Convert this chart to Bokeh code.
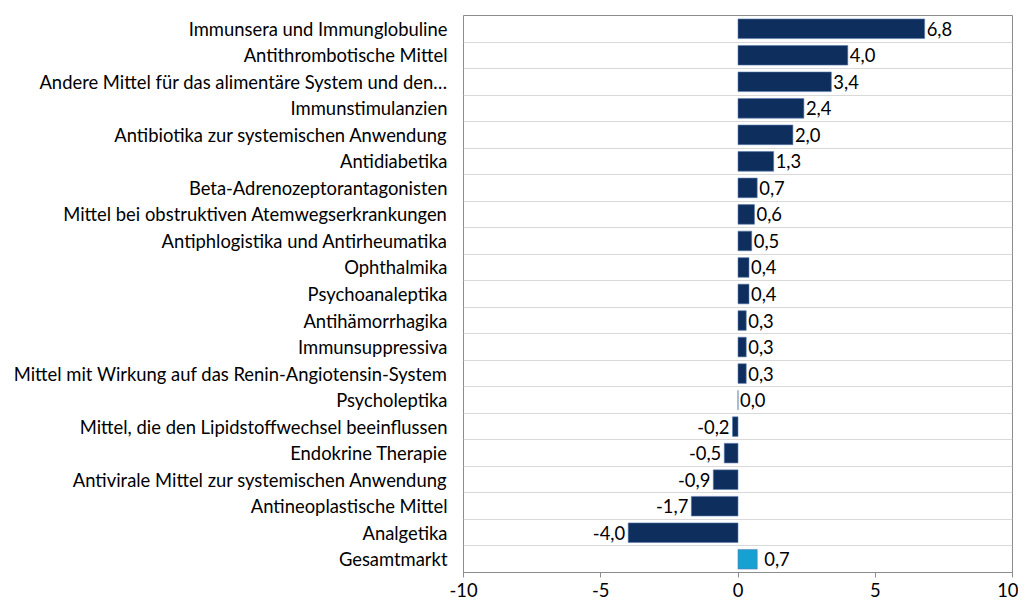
from bokeh.plotting import figure
from bokeh.models import Range1d, FixedTicker, Grid, ColumnDataSource
from bokeh.core.properties import value
from bokeh.embed import file_html
from bokeh.resources import INLINE

categories = [
    "Immunsera und Immunglobuline",
    "Antithrombotische Mittel",
    "Andere Mittel für das alimentäre System und den…",
    "Immunstimulanzien",
    "Antibiotika zur systemischen Anwendung",
    "Antidiabetika",
    "Beta-Adrenozeptorantagonisten",
    "Mittel bei obstruktiven Atemwegserkrankungen",
    "Antiphlogistika und Antirheumatika",
    "Ophthalmika",
    "Psychoanaleptika",
    "Antihämorrhagika",
    "Immunsuppressiva",
    "Mittel mit Wirkung auf das Renin-Angiotensin-System",
    "Psycholeptika",
    "Mittel, die den Lipidstoffwechsel beeinflussen",
    "Endokrine Therapie",
    "Antivirale Mittel zur systemischen Anwendung",
    "Antineoplastische Mittel",
    "Analgetika",
    "Gesamtmarkt",
]
values = [6.8, 4.0, 3.4, 2.4, 2.0, 1.3, 0.7, 0.6, 0.5, 0.4, 0.4, 0.3, 0.3, 0.3,
          0.0, -0.2, -0.5, -0.9, -1.7, -4.0, 0.7]
x_ticks = [-10, -5, 0, 5, 10]
x_tick_labels = ["-10", "-5", "0", "5", "10"]

FONT = "Lato"
FS = "18.4px"
DARK = "#0E2F5E"
LIGHT = "#15A2D2"

n = len(categories)
idx = list(range(n))
colors = [LIGHT if c == "Gesamtmarkt" else DARK for c in categories]
labels = [("%.1f" % v).replace(".", ",") for v in values]
aligns = ["right" if v < 0 else "left" for v in values]
offsets = [(-3 if v < 0 else (7 if c == "Gesamtmarkt" else 2)) for v, c in zip(values, categories)]

src = ColumnDataSource(dict(y=idx, v=values, color=colors, label=labels,
                            align=aligns, off=offsets))

p = figure(width=1018, height=599, output_backend="svg", toolbar_location=None,
           x_range=Range1d(-10, 10), y_range=Range1d(n - 0.5, -0.5))
p.min_border_left = 463
p.min_border_right = 6
p.min_border_top = 15
p.min_border_bottom = 10
p.outline_line_color = "#8c8c8c"
p.outline_line_width = 1
p.background_fill_color = "white"
p.border_fill_color = "white"

p.xgrid.visible = False
p.ygrid.visible = False
p.add_layout(Grid(dimension=1, ticker=FixedTicker(ticks=[i + 0.5 for i in range(n - 1)]),
                  grid_line_color="#d9d9d9", grid_line_width=1))

p.hbar(y="y", left=0, right="v", height=0.74, fill_color="color",
       line_color="#5b7db0", line_width=0.6, source=src)
p.text(x="v", y="y", text="label", text_align="align", x_offset="off",
       text_baseline="middle", text_font=value(FONT), text_font_size=FS,
       text_color="#000000", source=src)

xa = p.xaxis[0]
xa.ticker = FixedTicker(ticks=x_ticks)
xa.major_label_overrides = dict(zip(x_ticks, x_tick_labels))
xa.minor_tick_line_color = None
xa.major_tick_in = 0
xa.major_tick_out = 5
xa.major_tick_line_color = "#8c8c8c"
xa.axis_line_color = "#8c8c8c"
xa.major_label_text_font = FONT
xa.major_label_text_font_size = FS
xa.major_label_text_color = "#000000"
xa.major_label_standoff = 5

ya = p.yaxis[0]
ya.ticker = FixedTicker(ticks=idx)
ya.major_label_overrides = {i: c for i, c in enumerate(categories)}
ya.axis_line_color = None
ya.major_tick_line_color = None
ya.minor_tick_line_color = None
ya.major_tick_out = 0
ya.major_tick_in = 0
ya.major_label_standoff = 16
ya.major_label_text_font = FONT
ya.major_label_text_font_size = FS
ya.major_label_text_color = "#000000"

open("out.html", "w").write(file_html(p, INLINE))
